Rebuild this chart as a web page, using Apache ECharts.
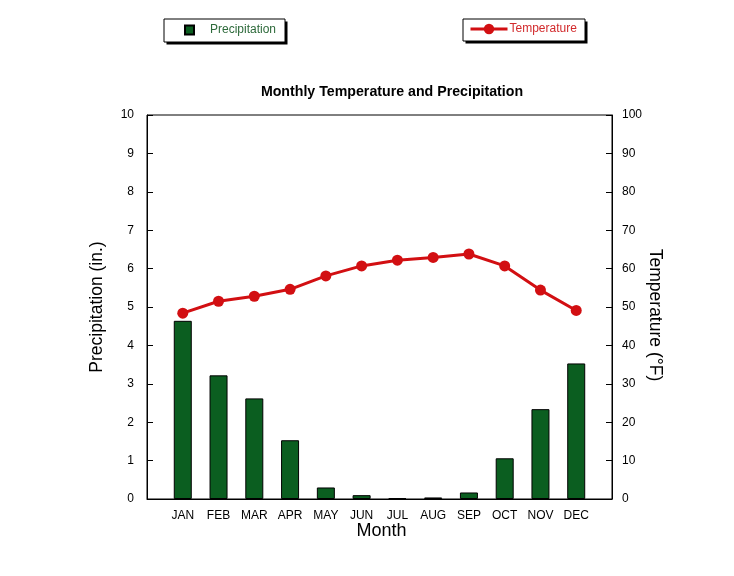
<!DOCTYPE html>
<html>
<head>
<meta charset="utf-8">
<script src="https://cdn.jsdelivr.net/npm/echarts@6/dist/echarts.min.js"></script>
<style>html,body{margin:0;padding:0;background:#fff}#c{width:734px;height:576px}</style>
</head>
<body>
<div id="c"></div>
<script>
const months = ['JAN','FEB','MAR','APR','MAY','JUN','JUL','AUG','SEP','OCT','NOV','DEC'];
const precipitation = [4.64, 3.22, 2.62, 1.53, 0.30, 0.10, 0.02, 0.04, 0.17, 1.06, 2.34, 3.53];
const temperature = [48.4, 51.5, 52.8, 54.6, 58.1, 60.7, 62.2, 62.9, 63.8, 60.7, 54.4, 49.1];

const font = 'Liberation Sans, Arial, Helvetica, sans-serif';
const chart = echarts.init(document.getElementById('c'), null, {renderer: 'canvas'});

function legendBox(x, y, w, h) {
  return [
    {type: 'rect', z: 1, silent: true, left: x + 3, top: y + 3, shape: {width: w, height: h}, style: {fill: '#000'}},
    {type: 'rect', z: 1, silent: true, left: x, top: y, shape: {width: w, height: h}, style: {fill: '#fff', stroke: '#000', lineWidth: 1}}
  ];
}

chart.setOption({
  animation: false,
  backgroundColor: '#fff',
  textStyle: {fontFamily: font},
  graphic: [].concat(legendBox(163.5, 18.5, 121, 23), legendBox(462.5, 18.5, 122, 22)),
  title: {
    text: 'Monthly Temperature and Precipitation',
    left: 387, top: 80, textAlign: 'center',
    textStyle: {fontSize: 14.2, fontWeight: 'bold', color: '#000', fontFamily: font}
  },
  legend: [
    {
      data: [{name: 'Precipitation', icon: 'rect'}],
      left: 184, top: 24,
      itemWidth: 9, itemHeight: 9, padding: 0, z: 5,
      textStyle: {color: '#2e6a3b', fontSize: 12, fontFamily: font, padding: [0, 0, 0, 11]}
    },
    {
      data: ['Temperature'],
      left: 469, top: 23,
      itemWidth: 37, itemHeight: 13, padding: 0, z: 5,
      lineStyle: {width: 3},
      textStyle: {color: '#d22a2c', fontSize: 12, fontFamily: font, padding: [0, 0, 0, -3]}
    }
  ],
  grid: {
    left: 147, right: 122, top: 115, bottom: 77,
    show: true, borderColor: '#000', borderWidth: 1, backgroundColor: 'transparent'
  },
  xAxis: {
    type: 'value', min: 0, max: 13, interval: 1,
    name: 'Month', nameLocation: 'middle', nameGap: 23, nameMoveOverlap: false,
    nameTextStyle: {fontSize: 18, color: '#000', fontFamily: font, padding: [0, 0, 0, 4]},
    axisLine: {show: true, lineStyle: {color: '#000', width: 1}},
    axisTick: {show: false},
    splitLine: {show: false},
    axisLabel: {
      margin: 11, fontSize: 12, color: '#000', fontFamily: font,
      formatter: v => (v >= 1 && v <= 12) ? months[v - 1] : ''
    }
  },
  yAxis: [
    {
      type: 'value', min: 0, max: 10, interval: 1, position: 'left',
      name: 'Precipitation (in.)', nameLocation: 'middle', nameGap: 41, nameRotate: 90, nameMoveOverlap: false,
      nameTextStyle: {fontSize: 17.5, color: '#000', fontFamily: font},
      axisLine: {show: true, lineStyle: {color: '#000', width: 1}},
      axisTick: {show: true, inside: true, length: 6, lineStyle: {color: '#000'}},
      splitLine: {show: false},
      axisLabel: {margin: 13, fontSize: 12, color: '#000', fontFamily: font}
    },
    {
      type: 'value', min: 0, max: 100, interval: 10, position: 'right',
      name: 'Temperature (°F)', nameLocation: 'middle', nameGap: 34, nameRotate: -90, nameMoveOverlap: false,
      nameTextStyle: {fontSize: 17.5, color: '#000', fontFamily: font, padding: [0, 0, 0, 16]},
      axisLine: {show: true, lineStyle: {color: '#000', width: 1}},
      axisTick: {show: true, inside: true, length: 6, lineStyle: {color: '#000'}},
      splitLine: {show: false},
      axisLabel: {margin: 10, fontSize: 12, color: '#000', fontFamily: font}
    }
  ],
  series: [
    {
      name: 'Precipitation', type: 'bar', yAxisIndex: 0,
      barWidth: 18,
      itemStyle: {color: '#0b5e20', borderColor: '#000', borderWidth: 1},
      data: precipitation.map((v, i) => [i + 1, v]),
      z: 2
    },
    {
      name: 'Temperature', type: 'line', yAxisIndex: 1,
      symbol: 'circle', symbolSize: 11,
      lineStyle: {color: '#d20f12', width: 3},
      itemStyle: {color: '#d20f12'},
      data: temperature.map((v, i) => [i + 1, v]),
      z: 3
    }
  ]
});
</script>
</body>
</html>
